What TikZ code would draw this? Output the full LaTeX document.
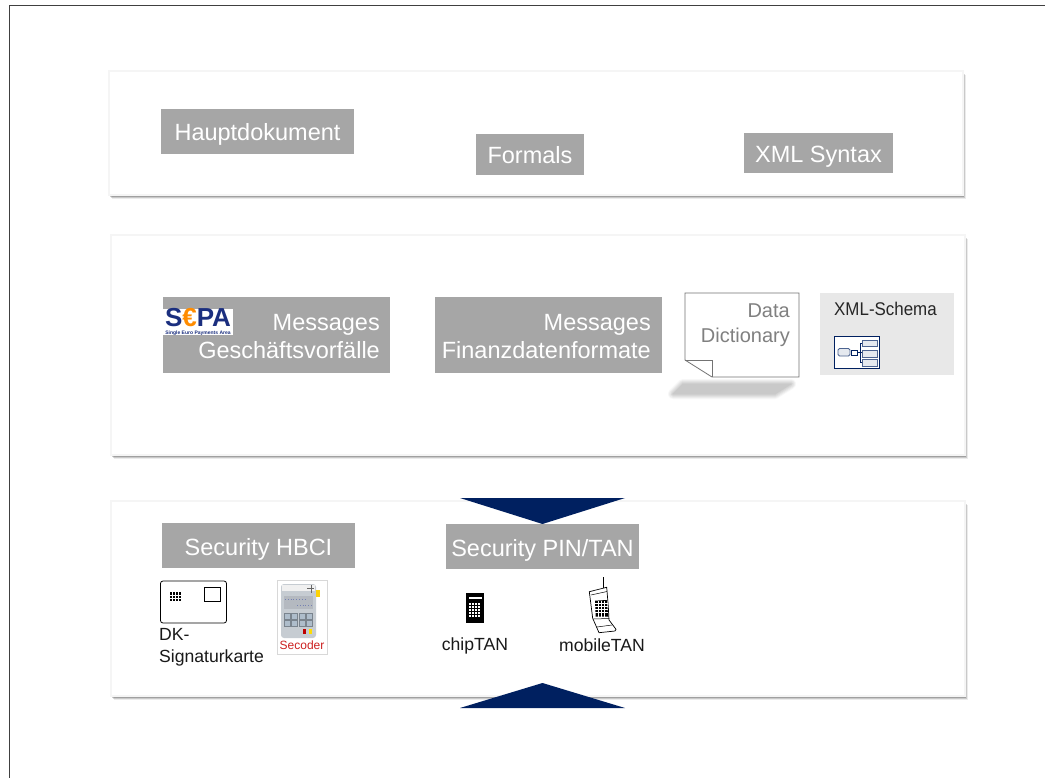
\documentclass[tikz,border=0pt]{standalone}
\usepackage{fontspec}
\setmainfont{Liberation Sans}
\usepackage{xcolor}
\usetikzlibrary{positioning,shadows,calc}
\definecolor{boxgrey}{HTML}{A6A6A6}
\definecolor{arrownavy}{HTML}{002060}
\definecolor{sepanavy}{HTML}{1B2F7F}
\definecolor{schemagrey}{HTML}{E8E8E8}
\definecolor{secoderred}{HTML}{CC1F1F}
\definecolor{devicegrey}{HTML}{C6CCD2}
\definecolor{screengrey}{HTML}{B4B9C0}
\definecolor{keygrey}{HTML}{AEBDCB}

\begin{document}
\begin{tikzpicture}[x=1pt, y=-1pt, node distance=4pt,
	panel/.style={draw=black!4, fill=white, line width=1.2pt,
		drop shadow={shadow xshift=2.5pt, shadow yshift=-4pt, opacity=.08, fill=black},
		drop shadow={shadow xshift=1.8pt, shadow yshift=-3pt, opacity=.14, fill=black},
		drop shadow={shadow xshift=1pt, shadow yshift=-2pt, opacity=.2, fill=black},
		drop shadow={shadow xshift=0.5pt, shadow yshift=-1pt, opacity=.28, fill=black}},
	greybox/.style={fill=boxgrey, text=white, inner sep=0pt, text height=19pt, text depth=0pt, font=\fontsize{23.5}{28}\selectfont},
	messagebox/.style={fill=boxgrey, inner sep=0pt, minimum width=227pt, minimum height=76pt},
	messagetext/.style={inner sep=0pt, text=white, align=right, anchor=east, font=\fontsize{23.5}{28}\selectfont},
	caption/.style={inner sep=0pt, font=\fontsize{17.6}{22}\selectfont, text=black!90},
	tipshape/.style={fill=arrownavy}]
	\useasboundingbox (0,0) rectangle (1045,778);
	\fill[white] (0,0) rectangle (1045,778);
	\draw[black!75, line width=1pt] (9,778) -- (9,6) -- (1045,6);

	\fill[panel] (109,71) rectangle (963,195);
	\fill[panel] (111,235) rectangle (965,455);
	\fill[panel] (111,501) rectangle (965,696);

	\node[greybox, minimum width=193pt, minimum height=45pt] (haupt) at (257.5,131.5) {Hauptdokument};
	\node[greybox, minimum width=108pt, minimum height=41pt] (formals) at (530,154.5) {Formals};
	\node[greybox, minimum width=149pt, minimum height=40pt] (syntax) at (818.5,153) {XML Syntax};

	\node[messagebox] (geschaeft) at (276.5,335) {};
	\node[messagebox] (finanz) [right=45pt of geschaeft] {};
	\node[messagetext] (geschaefttext) at (380,336.7) {Messages\\Geschäftsvorfälle};
	\node[messagetext] (finanztext) at (651,336.7) {Messages\\Finanzdatenformate};

	\fill[white] (163,309) rectangle (233,335);
	\node[inner sep=0pt, text=sepanavy, font=\fontsize{26}{28}\bfseries\selectfont] (sepa) at (198,318) {S\textcolor{orange!90!yellow}{€}PA};
	\node[inner sep=0pt, text=sepanavy, font=\fontsize{5}{5.5}\bfseries\selectfont] (sepatext) at (198,333) {Single Euro Payments Area};

	\foreach \w/\c in {10/3,8/7,6/11,4/15,2/18,0.4/21}
		\draw[black!\c, fill=black!\c, line width=\w pt, line join=round] (683,384) -- (791,384) -- (775,394) -- (673,394) -- cycle;
	\draw[black!55, fill=white, line width=0.8pt] (685,293) -- (799,293) -- (799,377) -- (712,377) -- (685,360) -- cycle;
	\draw[black!55, line width=0.8pt] (685,360) -- (712,360) -- (712,377);
	\node[inner sep=0pt, align=right, text=black!50, font=\fontsize{20}{25}\selectfont, anchor=north east] (dictionary) at (790,303.5) {Data\\Dictionary};

	\fill[schemagrey] (820,293) rectangle (954,375);
	\node[inner sep=0pt, text=black!85, font=\fontsize{18.4}{20}\selectfont, anchor=west] (schema) at (834,308.5) {\scalebox{.92}[1]{XML-Schema}};
	\draw[arrownavy, fill=white, line width=0.8pt] (834,336) rectangle (879,368.5);
	\draw[arrownavy!70, fill=arrownavy!10, line width=0.8pt, rounded corners=1.5pt] (838,348.5) rectangle (850,356);
	\draw[arrownavy, fill=white, line width=1pt] (851,350) rectangle (857,355);
	\foreach \ya/\yb in {340/346, 350/357, 359.5/366}
		\draw[arrownavy!70, fill=arrownavy!10, line width=0.8pt] (862,\ya) rectangle (877,\yb);
	\draw[arrownavy, line width=0.8pt] (857,352.5) -- (862,352.5) (862,343) -- (860,343) -- (860,362.5) -- (862,362.5);

	\fill[tipshape] (460,498) -- (625,498) -- (542.5,524) -- cycle;
	\fill[tipshape] (460,708) -- (625,708) -- (542.5,683) -- cycle;

	\node[greybox, minimum width=193pt, minimum height=45pt] (hbci) at (258.5,545.5) {Security HBCI};
	\node[greybox, minimum width=193pt, minimum height=45pt] (pintan) at (542.5,546.5) {Security PIN/TAN};

	\draw[black, line width=0.8pt, rounded corners=2.5pt] (160.5,581) rectangle (226.5,623);
	\fill[black] (170,592) rectangle (181,601);
	\foreach \i in {172,175,178}
		\draw[white, line width=0.4pt] (\i,592) -- (\i,601);
	\draw[white, line width=0.4pt] (170,595) -- (181,595) (170,598) -- (181,598);
	\draw[black, line width=0.7pt] (204.5,587) rectangle (220,601);
	\node[caption, align=left, anchor=north west] (signatur) at (159,628.5) {DK-\\Signaturkarte};

	\fill[black!25, opacity=.6] (277,580) rectangle (328,655);
	\fill[white] (278,581) rectangle (327,654);
	\fill[devicegrey, rounded corners=3pt] (281,584) rectangle (316,638);
	\fill[black!6] (282,585) rectangle (315,591);
	\fill[screengrey] (284,596) rectangle (313,609);
	\draw[sepanavy!60, line width=0.8pt, dotted] (285,599) -- (305,599) (297,605) -- (312,605);
	\fill[yellow!70!orange] (316,590) rectangle (320,597);
	\draw[black!60, line width=0.8pt] (307,588) -- (314,588) (311,585) -- (311,593);
	\foreach \x in {284,291.5,299,306.5}
		\foreach \y in {613.5,620.5}
			\draw[keygrey!70!black, fill=keygrey, line width=0.5pt] (\x,\y) rectangle +(6,5.5);
	\fill[red!75!black] (303,629) rectangle (306,634);
	\fill[yellow!80!orange] (309,629) rectangle (312,634);
	\node[inner sep=0pt, text=secoderred, font=\fontsize{12}{14}\selectfont] (secoder) at (302,645.5) {Secoder};

	\node[fill=black, inner sep=0pt, minimum width=18pt, minimum height=30pt] (chipcalc) at (475,608) {};
	\fill[white] (468.5,597) rectangle (481.5,599);
	\foreach \x in {469,472,475,478}
		\foreach \y in {603,606,609,612,615}
			\fill[white] (\x,\y) rectangle +(2,2);
	\node[caption] (chiptan) [below=14.5pt of chipcalc] {chipTAN};

	\draw[black, line width=0.7pt] (603,577) -- (603,588);
	\draw[black, fill=white, line width=0.7pt, line join=round] (589.3,591.7) -- (606.7,587.3) -- (608.3,606.7) -- (609,620) -- (616,629.3) -- (615,631) -- (599,632.7) -- (592.7,618.3) -- cycle;
	\draw[black, line width=0.5pt] (591,595) -- (607,591.5) (593.5,619) -- (609,618.5) (597,627) -- (612,625);
	\fill[black] (595,600.7) -- (606.7,600) -- (608.3,616.7) -- (595.7,616.7) -- cycle;
	\foreach \y in {603.5,606.5,609.5,612.5}
		\draw[white, line width=0.4pt] (595,\y) -- (608,\y);
	\foreach \x in {598.5,601.5,604.5}
		\draw[white, line width=0.4pt] (\x,600.5) -- (\x,616.5);
	\node[caption] (mobiletan) at (602,645.3) {mobileTAN};
\end{tikzpicture}
\end{document}
